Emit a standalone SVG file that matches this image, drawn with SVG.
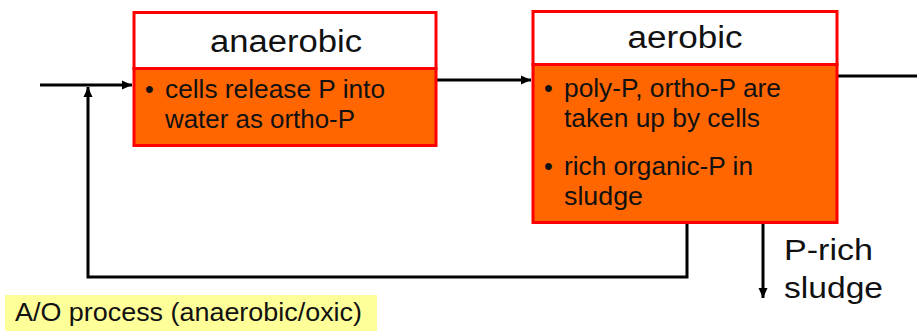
<svg xmlns="http://www.w3.org/2000/svg" width="917" height="331" viewBox="0 0 917 331">
<defs>
<marker id="ah" viewBox="0 0 10 10" refX="10" refY="5" markerWidth="10" markerHeight="10" markerUnits="userSpaceOnUse" orient="auto">
<path d="M0,0.5 L10,5 L0,9.5 Z" fill="#000"/>
</marker>
<style>
.box{stroke:#FF0000;stroke-width:3}
.hd{fill:#fff}
.bd{fill:#FF6600}
text{font-family:"Liberation Sans",Arial,sans-serif;fill:#111}
.h{font-size:31px;text-anchor:middle}
.b{font-size:25px}
.ln{fill:none;stroke:#000;stroke-width:3}
</style>
</defs>
<rect x="5" y="295" width="372" height="36" fill="#FFFF99"/>
<text class="b" x="15" y="321" textLength="347" lengthAdjust="spacingAndGlyphs">A/O process (anaerobic/oxic)</text>
<g id="connectors">
<line class="ln" x1="40" y1="85" x2="132" y2="85" marker-end="url(#ah)"/>
<line class="ln" x1="437" y1="80" x2="531" y2="80" marker-end="url(#ah)"/>
<line class="ln" x1="838" y1="76" x2="917" y2="76"/>
<polyline class="ln" points="687,223 687,277 88,277 88,87" marker-end="url(#ah)"/>
<line class="ln" x1="763" y1="223" x2="763" y2="298" marker-end="url(#ah)"/>
</g>
<g id="anaerobic">
<rect class="box hd" x="134" y="12.5" width="302" height="56"/>
<rect class="box bd" x="134" y="68.5" width="302" height="77"/>
<text class="h" x="286" y="52" textLength="152" lengthAdjust="spacingAndGlyphs">anaerobic</text>
<text class="b" x="145" y="98">•</text>
<text class="b" x="165" y="98" textLength="220" lengthAdjust="spacingAndGlyphs">cells release P into</text>
<text class="b" x="165" y="128" textLength="190" lengthAdjust="spacingAndGlyphs">water as ortho-P</text>
</g>
<g id="aerobic">
<rect class="box hd" x="533" y="11.5" width="304" height="53"/>
<rect class="box bd" x="533" y="64.5" width="304" height="158"/>
<text class="h" x="685" y="48" textLength="115" lengthAdjust="spacingAndGlyphs">aerobic</text>
<text class="b" x="544" y="97">•</text>
<text class="b" x="564" y="97" textLength="217" lengthAdjust="spacingAndGlyphs">poly-P, ortho-P are</text>
<text class="b" x="564" y="127" textLength="196" lengthAdjust="spacingAndGlyphs">taken up by cells</text>
<text class="b" x="544" y="175">•</text>
<text class="b" x="564" y="175" textLength="189" lengthAdjust="spacingAndGlyphs">rich organic-P in</text>
<text class="b" x="564" y="205" textLength="79" lengthAdjust="spacingAndGlyphs">sludge</text>
</g>
<g id="sludge-label">
<text x="784" y="260" font-size="30" textLength="89" lengthAdjust="spacingAndGlyphs">P-rich</text>
<text x="784" y="298" font-size="30" textLength="99" lengthAdjust="spacingAndGlyphs">sludge</text>
</g>
</svg>
